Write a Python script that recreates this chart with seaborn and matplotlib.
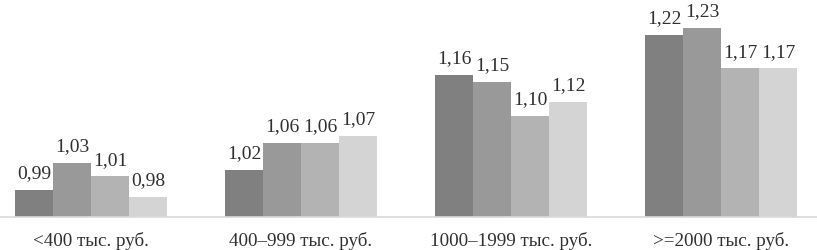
import matplotlib
matplotlib.use("Agg")
import matplotlib.pyplot as plt
import seaborn as sns
import pandas as pd

categories = ["<400 тыс. руб.", "400–999 тыс. руб.", "1000–1999 тыс. руб.", ">=2000 тыс. руб."]
series_names = ["S1", "S2", "S3", "S4"]
s1 = [0.99, 1.02, 1.16, 1.22]
s2 = [1.03, 1.06, 1.15, 1.23]
s3 = [1.01, 1.06, 1.10, 1.17]
s4 = [0.98, 1.07, 1.12, 1.17]
colors = ["#808080", "#999999", "#b3b3b3", "#d4d4d4"]

rows = []
for name, vals in zip(series_names, [s1, s2, s3, s4]):
    for c, v in zip(categories, vals):
        rows.append({"cat": c, "series": name, "val": v})
df = pd.DataFrame(rows)

sns.set_style("white")
plt.rcParams["font.family"] = ["Liberation Serif", "DejaVu Serif"]

fig = plt.figure(figsize=(8.17, 2.5), dpi=100)
ax = fig.add_axes([-14 / 817, 33 / 250, 840 / 817, 212 / 250])
sns.barplot(data=df, x="cat", y="val", hue="series", palette=colors,
            width=0.724, ax=ax, legend=False, saturation=1, edgecolor="none")
ax.set_ylim(0.95, 1.264)
for cont in ax.containers:
    labs = [f"{b.get_height():.2f}".replace(".", ",") for b in cont]
    ax.bar_label(cont, labels=labs, padding=5.5, fontsize=14, color="#303030")
ax.set_xlabel("")
ax.set_ylabel("")
ax.set_yticks([])
for s in ["top", "left", "right"]:
    ax.spines[s].set_visible(False)
ax.spines["bottom"].set_color("#d9d9d9")
ax.spines["bottom"].set_linewidth(1.2)
ax.tick_params(axis="x", length=0, labelsize=13.7, colors="#303030", pad=11)
fig.savefig("out.png", dpi=100)
